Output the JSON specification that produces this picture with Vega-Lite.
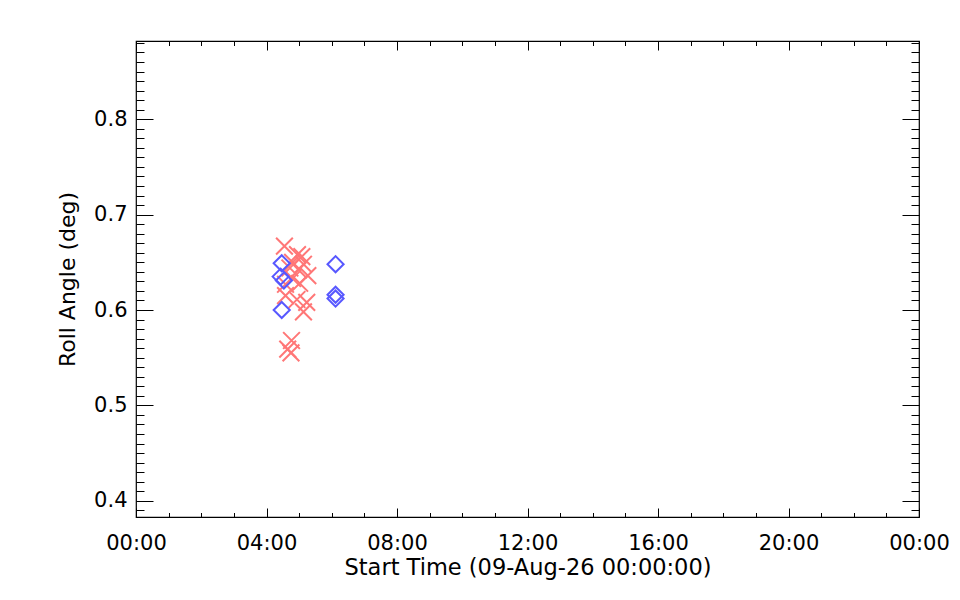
{
  "$schema": "https://vega.github.io/schema/vega-lite/v6.json",
  "width": 783,
  "height": 476,
  "autosize": "none",
  "padding": {"left": 136, "top": 41, "right": 41, "bottom": 83},
  "background": "white",
  "config": {
    "view": {"stroke": "black", "strokeWidth": 1.2},
    "axis": {
      "grid": false,
      "domain": false,
      "labelFont": "DejaVu Sans",
      "labelFontSize": 21,
      "labelColor": "black",
      "titleFont": "DejaVu Sans",
      "titleFontSize": 22.5,
      "titleFontWeight": "normal",
      "titleColor": "black",
      "tickColor": "black",
      "tickWidth": 1
    }
  },
  "datasets": {
    "roll": [
      {"time": "2026-08-09T04:33:00Z", "roll": 0.667, "kind": "x"},
      {"time": "2026-08-09T04:57:00Z", "roll": 0.658, "kind": "x"},
      {"time": "2026-08-09T05:05:00Z", "roll": 0.656, "kind": "x"},
      {"time": "2026-08-09T04:48:00Z", "roll": 0.650, "kind": "x"},
      {"time": "2026-08-09T05:08:00Z", "roll": 0.648, "kind": "x"},
      {"time": "2026-08-09T04:43:00Z", "roll": 0.644, "kind": "x"},
      {"time": "2026-08-09T04:59:00Z", "roll": 0.642, "kind": "x"},
      {"time": "2026-08-09T05:16:00Z", "roll": 0.636, "kind": "x"},
      {"time": "2026-08-09T04:48:00Z", "roll": 0.633, "kind": "x"},
      {"time": "2026-08-09T05:01:00Z", "roll": 0.628, "kind": "x"},
      {"time": "2026-08-09T04:35:00Z", "roll": 0.627, "kind": "x"},
      {"time": "2026-08-09T04:35:00Z", "roll": 0.615, "kind": "x"},
      {"time": "2026-08-09T04:56:00Z", "roll": 0.611, "kind": "x"},
      {"time": "2026-08-09T05:14:00Z", "roll": 0.608, "kind": "x"},
      {"time": "2026-08-09T05:08:00Z", "roll": 0.598, "kind": "x"},
      {"time": "2026-08-09T04:46:00Z", "roll": 0.568, "kind": "x"},
      {"time": "2026-08-09T04:39:00Z", "roll": 0.559, "kind": "x"},
      {"time": "2026-08-09T04:45:00Z", "roll": 0.555, "kind": "x"},
      {"time": "2026-08-09T04:28:00Z", "roll": 0.649, "kind": "d"},
      {"time": "2026-08-09T04:26:00Z", "roll": 0.635, "kind": "d"},
      {"time": "2026-08-09T04:32:00Z", "roll": 0.631, "kind": "d"},
      {"time": "2026-08-09T04:28:00Z", "roll": 0.600, "kind": "d"},
      {"time": "2026-08-09T06:07:00Z", "roll": 0.648, "kind": "d"},
      {"time": "2026-08-09T06:07:00Z", "roll": 0.616, "kind": "d"},
      {"time": "2026-08-09T06:07:00Z", "roll": 0.612, "kind": "d"}
    ]
  },
  "data": {"name": "roll"},
  "resolve": {"axis": {"x": "independent", "y": "independent"}},
  "layer": [
    {
      "transform": [{"filter": "datum.kind === 'x'"}],
      "mark": {"type": "point", "shape": "M-1,-1L1,1M-1,1L1,-1", "size": 280, "strokeWidth": 2, "color": "#ff7777", "opacity": 1, "filled": false},
      "encoding": {
        "x": {
          "field": "time", "type": "temporal",
          "scale": {"type": "utc", "domain": [1786233600000, 1786320000000], "nice": false},
          "axis": {"orient": "bottom", "format": "%H:%M", "values": [1786233600000, 1786248000000, 1786262400000, 1786276800000, 1786291200000, 1786305600000, 1786320000000], "tickSize": -9, "labelPadding": 24, "labelFlush": false, "labelOverlap": false, "title": "Start Time (09-Aug-26 00:00:00)", "titlePadding": 3}
        },
        "y": {
          "field": "roll", "type": "quantitative",
          "scale": {"domain": [0.383, 0.882], "nice": false, "zero": false},
          "axis": {"orient": "left", "values": [0.4, 0.5, 0.6, 0.7, 0.8], "format": ".1f", "tickSize": -17, "labelPadding": 26, "title": "Roll Angle (deg)", "titleFontSize": 22, "titlePadding": 14}
        }
      }
    },
    {
      "transform": [{"filter": "datum.kind === 'd'"}],
      "mark": {"type": "point", "shape": "diamond", "size": 260, "strokeWidth": 2, "color": "#5858ff", "opacity": 1, "filled": false},
      "encoding": {
        "x": {
          "field": "time", "type": "temporal",
          "scale": {"type": "utc", "domain": [1786233600000, 1786320000000], "nice": false},
          "axis": {"orient": "bottom", "values": [1786237200000, 1786240800000, 1786244400000, 1786251600000, 1786255200000, 1786258800000, 1786266000000, 1786269600000, 1786273200000, 1786280400000, 1786284000000, 1786287600000, 1786294800000, 1786298400000, 1786302000000, 1786309200000, 1786312800000, 1786316400000], "tickSize": -4.5, "labels": false, "title": null}
        },
        "y": {
          "field": "roll", "type": "quantitative",
          "scale": {"domain": [0.383, 0.882], "nice": false, "zero": false},
          "axis": {"orient": "left", "values": [0.39, 0.41, 0.42, 0.43, 0.44, 0.45, 0.46, 0.47, 0.48, 0.49, 0.51, 0.52, 0.53, 0.54, 0.55, 0.56, 0.57, 0.58, 0.59, 0.61, 0.62, 0.63, 0.64, 0.65, 0.66, 0.67, 0.68, 0.69, 0.71, 0.72, 0.73, 0.74, 0.75, 0.76, 0.77, 0.78, 0.79, 0.81, 0.82, 0.83, 0.84, 0.85, 0.86, 0.87, 0.88], "tickSize": -8, "labels": false, "title": null}
        }
      }
    },
    {
      "mark": {"type": "point", "opacity": 0},
      "encoding": {
        "x": {
          "field": "time", "type": "temporal",
          "scale": {"type": "utc", "domain": [1786233600000, 1786320000000], "nice": false},
          "axis": {"orient": "top", "values": [1786233600000, 1786248000000, 1786262400000, 1786276800000, 1786291200000, 1786305600000, 1786320000000], "tickSize": -9, "labels": false, "title": null}
        },
        "y": {
          "field": "roll", "type": "quantitative",
          "scale": {"domain": [0.383, 0.882], "nice": false, "zero": false},
          "axis": {"orient": "right", "values": [0.4, 0.5, 0.6, 0.7, 0.8], "tickSize": -17, "labels": false, "title": null}
        }
      }
    },
    {
      "mark": {"type": "point", "opacity": 0},
      "encoding": {
        "x": {
          "field": "time", "type": "temporal",
          "scale": {"type": "utc", "domain": [1786233600000, 1786320000000], "nice": false},
          "axis": {"orient": "top", "values": [1786237200000, 1786240800000, 1786244400000, 1786251600000, 1786255200000, 1786258800000, 1786266000000, 1786269600000, 1786273200000, 1786280400000, 1786284000000, 1786287600000, 1786294800000, 1786298400000, 1786302000000, 1786309200000, 1786312800000, 1786316400000], "tickSize": -4.5, "labels": false, "title": null}
        },
        "y": {
          "field": "roll", "type": "quantitative",
          "scale": {"domain": [0.383, 0.882], "nice": false, "zero": false},
          "axis": {"orient": "right", "values": [0.39, 0.41, 0.42, 0.43, 0.44, 0.45, 0.46, 0.47, 0.48, 0.49, 0.51, 0.52, 0.53, 0.54, 0.55, 0.56, 0.57, 0.58, 0.59, 0.61, 0.62, 0.63, 0.64, 0.65, 0.66, 0.67, 0.68, 0.69, 0.71, 0.72, 0.73, 0.74, 0.75, 0.76, 0.77, 0.78, 0.79, 0.81, 0.82, 0.83, 0.84, 0.85, 0.86, 0.87, 0.88], "tickSize": -8, "labels": false, "title": null}
        }
      }
    }
  ]
}
